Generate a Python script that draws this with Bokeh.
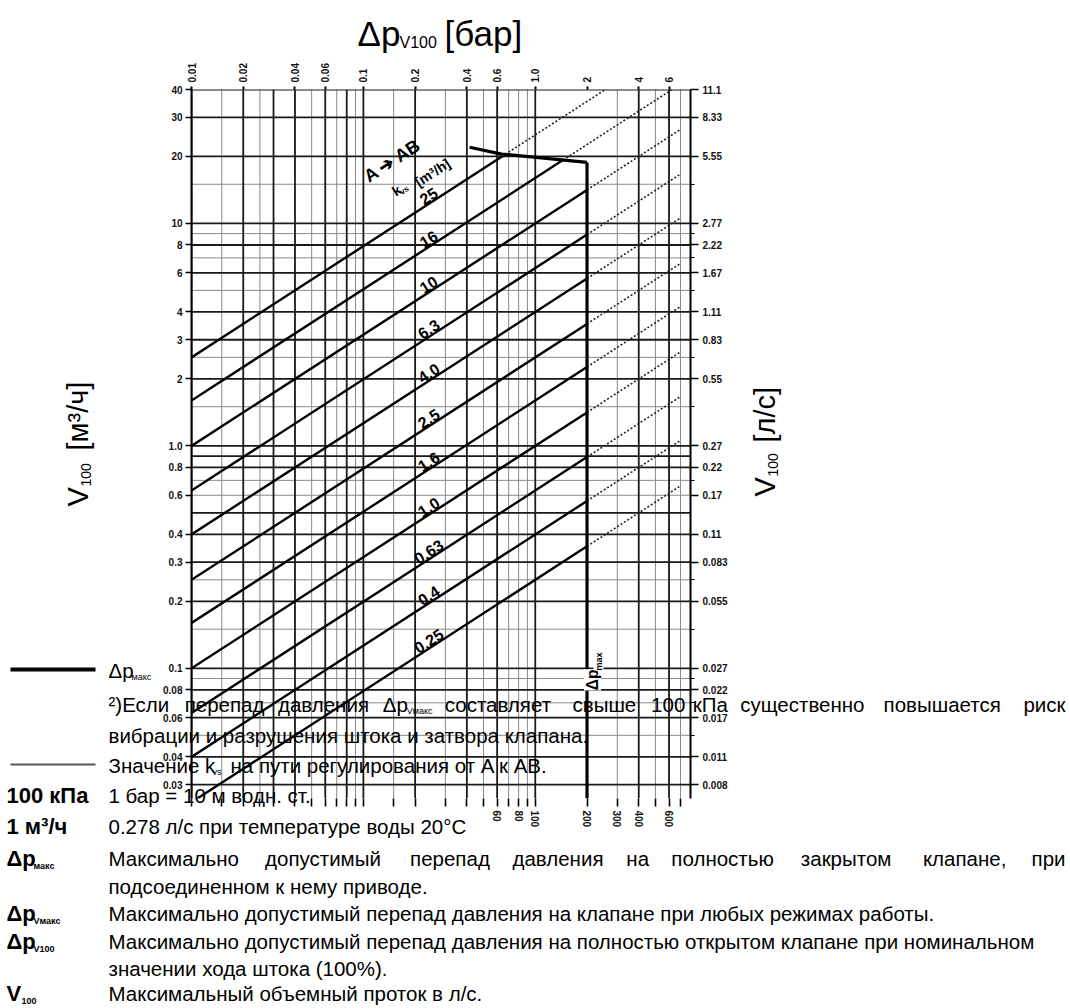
import math
import numpy as np
from bokeh.plotting import figure
from bokeh.layouts import column
from bokeh.models import Range1d, LogAxis, FixedTicker, Label, ColumnDataSource
from bokeh.embed import file_html
from bokeh.resources import INLINE
from bokeh.core.properties import value

# ---------------- data ----------------
kvs_values = [25, 16, 10, 6.3, 4.0, 2.5, 1.6, 1.0, 0.63, 0.4, 0.25]
kvs_labels = ["25", "16", "10", "6.3", "4.0", "2.5", "1.6", "1.0", "0.63", "0.4", "0.25"]

dp_ticks_bar = [0.01, 0.02, 0.04, 0.06, 0.1, 0.2, 0.4, 0.6, 1.0, 2.0, 4.0, 6.0]
dp_tick_labels = ["0.01", "0.02", "0.04", "0.06", "0.1", "0.2", "0.4", "0.6", "1.0", "2", "4", "6"]
kpa_ticks_bar = [0.6, 0.8, 1.0, 2.0, 3.0, 4.0, 6.0]
kpa_tick_labels = ["60", "80", "100", "200", "300", "400", "600"]

flow_ticks = [40, 30, 20, 10, 8, 6, 4, 3, 2, 1.0, 0.8, 0.6, 0.4, 0.3, 0.2, 0.1, 0.08, 0.06, 0.04, 0.03]
flow_labels_m3h = ["40", "30", "20", "10", "8", "6", "4", "3", "2", "1.0", "0.8", "0.6", "0.4",
                   "0.3", "0.2", "0.1", "0.08", "0.06", "0.04", "0.03"]
flow_labels_ls = ["11.1", "8.33", "5.55", "2.77", "2.22", "1.67", "1.11", "0.83", "0.55", "0.27",
                  "0.22", "0.17", "0.11", "0.083", "0.055", "0.027", "0.022", "0.017", "0.011", "0.008"]

grid_dp_major = [0.01, 0.02, 0.03, 0.04, 0.06, 0.08, 0.1, 0.2, 0.4, 0.6, 1.0, 4.0, 6.0]
grid_dp_minor = [0.015, 0.025, 0.05, 0.07, 0.09, 0.15, 0.3, 0.5, 0.7, 0.8, 0.9, 3.0, 5.0, 7.0]
grid_v_major = [40, 30, 20, 10, 8, 6, 4, 3, 2, 1.0, 0.9, 0.8, 0.5, 0.4, 0.3, 0.2, 0.1, 0.08, 0.06, 0.04, 0.03]
grid_v_minor = [15, 9, 7, 5, 2.5, 1.5, 0.7, 0.6, 0.25, 0.15, 0.09, 0.07, 0.05]

vmax_dp = [0.415, 0.636, 2.0]      # bar
vmax_flow = [22.0, 20.5, 18.8]     # m3/h
dp_max_bar = 2.0
dotted_end_dp = 7.0
kvs_label_dp = 0.25

X_RANGE = (0.01, 8.0)
Y_RANGE = (0.026, 40.0)

FONT = "Liberation Sans"
W, H = 1068, 1006
FL, FR, FT, FB = 191, 690, 89, 798   # frame edges on the page
TXT = 20.5                            # footnote text size (px)
BLD = 22                              # bold left-column size (px)

# ---------------- chart figure ----------------
p = figure(width=W, height=H, x_axis_type="log", y_axis_type="log",
           x_range=Range1d(*X_RANGE), y_range=Range1d(*Y_RANGE),
           x_axis_location="above", output_backend="svg", toolbar_location=None,
           min_border_left=FL, min_border_right=W - FR, min_border_top=FT, min_border_bottom=H - FB)
p.frame_align = False
p.outline_line_color = None
p.xgrid.visible = False
p.ygrid.visible = False
p.background_fill_color = "white"
p.border_fill_color = "white"

def style_axis(ax, size="10px"):
    ax.major_label_text_font = FONT
    ax.major_label_text_font_size = size
    ax.major_label_text_font_style = "bold"
    ax.major_label_text_color = "#111111"
    ax.minor_tick_line_color = None

top = p.xaxis[0]
top.ticker = FixedTicker(ticks=dp_ticks_bar, minor_ticks=[])
top.major_label_overrides = {t: l for t, l in zip(dp_ticks_bar, dp_tick_labels)}
top.major_label_orientation = "vertical"
top.axis_line_color = None
top.major_tick_out = 3
top.major_tick_in = 0
top.major_tick_line_width = 2
top.major_label_standoff = 4
style_axis(top)

all_dp_grid = sorted(set(grid_dp_major + grid_dp_minor + [dp_max_bar]))
bottom_over = {t: "" for t in all_dp_grid}
for t, l in zip(kpa_ticks_bar, kpa_tick_labels):
    bottom_over[t] = l
bottom = LogAxis(ticker=FixedTicker(ticks=all_dp_grid, minor_ticks=[]),
                 major_label_overrides=bottom_over, major_label_orientation="vertical",
                 axis_line_color=None, major_tick_out=8, major_tick_in=0,
                 major_tick_line_width=1.6, major_label_standoff=4)
style_axis(bottom)
p.add_layout(bottom, "below")

left = p.yaxis[0]
left.ticker = FixedTicker(ticks=flow_ticks, minor_ticks=[])
left.major_label_overrides = {t: l for t, l in zip(flow_ticks, flow_labels_m3h)}
left.axis_line_width = 2
left.major_tick_out = 6
left.major_tick_in = 0
left.major_tick_line_width = 1.5
left.major_label_standoff = 3
style_axis(left)

right = LogAxis(ticker=FixedTicker(ticks=flow_ticks, minor_ticks=grid_v_minor),
                major_label_overrides={t: l for t, l in zip(flow_ticks, flow_labels_ls)},
                axis_line_width=2, major_tick_out=8, major_tick_in=0, major_tick_line_width=1.5,
                minor_tick_out=4, minor_tick_in=0, major_label_standoff=4)
style_axis(right)
right.minor_tick_line_color = "black"
p.add_layout(right, "right")

# grid
y0, y1 = Y_RANGE
x0, x1 = X_RANGE
p.multi_line(xs=[[d, d] for d in grid_dp_minor], ys=[[y0, y1] for _ in grid_dp_minor],
             line_color="#8a8a8a", line_width=1)
p.multi_line(xs=[[x0, x1] for _ in grid_v_minor], ys=[[v, v] for v in grid_v_minor],
             line_color="#8a8a8a", line_width=1)
p.multi_line(xs=[[d, d] for d in grid_dp_major], ys=[[y0, y1] for _ in grid_dp_major],
             line_color="#1a1a1a", line_width=1.8)
p.multi_line(xs=[[x0, x1] for _ in grid_v_major], ys=[[v, v] for v in grid_v_major],
             line_color="#1a1a1a", line_width=1.8)

# kvs lines
def cross_vmax(k):
    lx = np.log10(vmax_dp)
    ly = np.log10(vmax_flow)
    for i in range(len(lx) - 1):
        f0 = math.log10(k) + 0.5 * lx[i] - ly[i]
        f1 = math.log10(k) + 0.5 * lx[i + 1] - ly[i + 1]
        if f0 * f1 <= 0 and f0 != f1:
            t = f0 / (f0 - f1)
            return 10 ** (lx[i] + t * (lx[i + 1] - lx[i]))
    return None

solid_xs, solid_ys, dot_xs, dot_ys = [], [], [], []
for k in kvs_values:
    end = cross_vmax(k) or dp_max_bar
    solid_xs.append([x0, end])
    solid_ys.append([k * math.sqrt(x0), k * math.sqrt(end)])
    dot_xs.append([end, dotted_end_dp])
    dot_ys.append([k * math.sqrt(end), k * math.sqrt(dotted_end_dp)])

p.multi_line(xs=solid_xs, ys=solid_ys, line_color="black", line_width=2.4)
p.multi_line(xs=dot_xs, ys=dot_ys, line_color="#222222", line_width=1.6, line_dash="2 2")

p.line(x=vmax_dp, y=vmax_flow, line_color="black", line_width=3.2)
p.line(x=[dp_max_bar, dp_max_bar], y=[y0, vmax_flow[-1]], line_color="black", line_width=3.2)

px_per_dec_x = (FR - FL) / math.log10(X_RANGE[1] / X_RANGE[0])
px_per_dec_y = (FB - FT) / math.log10(Y_RANGE[1] / Y_RANGE[0])
slope_angle = math.atan(0.5 * px_per_dec_y / px_per_dec_x)
lab_src = ColumnDataSource(dict(x=[kvs_label_dp] * len(kvs_values),
                                y=[k * math.sqrt(kvs_label_dp) for k in kvs_values],
                                t=kvs_labels))
p.text(x="x", y="y", text="t", source=lab_src, angle=slope_angle, text_align="center",
       text_baseline="bottom", y_offset=-1, text_font=value(FONT), text_font_size="16px",
       text_font_style="bold", text_color="black")

# ---------------- transparent overlay figure for free text (pixel coords) ----------------
ov = figure(width=W, height=H, x_range=Range1d(0, W), y_range=Range1d(H, 0),
            x_axis_type=None, y_axis_type=None, output_backend="svg", toolbar_location=None,
            min_border=0, min_border_left=0, min_border_right=0, min_border_top=0, min_border_bottom=0)
ov.frame_align = False
ov.outline_line_color = None
ov.background_fill_color = None
ov.border_fill_color = None
ov.xgrid.visible = False
ov.ygrid.visible = False
ov.margin = (-H, 0, 0, 0)

def lab(x, y, t, size=TXT, bold=False, angle=0.0, align="left", baseline="middle", bg=None):
    L = Label(x=x, y=y, text=t, text_font=FONT, text_font_size=f"{size}px",
              text_font_style="bold" if bold else "normal",
              angle=angle, text_align=align, text_baseline=baseline, text_color="black")
    if bg:
        L.background_fill_color = bg
    ov.add_layout(L)

NARROW = set(".,:;()!il1 |")
WIDE = set("мшщюжыфМЩШЖЮ")
def est_width(word, size=TXT):
    w = 0.0
    for ch in word:
        if ch in NARROW:
            w += 0.28
        elif ch in WIDE:
            w += 0.76
        else:
            w += 0.56
    return w * size

def justified(words, y, xa=108, xb=1065, extra=None):
    extra = extra or {}
    widths = [est_width(w) + extra.get(i, 0) for i, w in enumerate(words)]
    gap = (xb - xa - sum(widths)) / (len(words) - 1)
    x = xa
    pos = []
    for i, w in enumerate(words):
        if i == len(words) - 1:
            lab(xb, y, w, align="right")
            pos.append(xb - widths[i])
        else:
            lab(x, y, w)
            pos.append(x)
        x += widths[i] + gap
    return pos

# titles
lab(357, 33, "Δp", size=35)
lab(399, 42, "V100", size=16)
lab(444, 33, "[бар]", size=35)

lab(77, 506, "V", size=29, angle=math.pi / 2)
lab(85, 486, "100", size=14, angle=math.pi / 2)
lab(77, 450, "[м³/ч]", size=29, angle=math.pi / 2)

lab(764, 496, "V", size=29, angle=math.pi / 2)
lab(772, 476, "100", size=14, angle=math.pi / 2)
lab(764, 442, "[л/с]", size=29, angle=math.pi / 2)

# A -> AB and kvs caption
lab(392, 160, "A ➔ AB", size=18, bold=True, angle=slope_angle, align="center")
lab(396, 190, "k", size=14, bold=True, angle=slope_angle, align="center")
lab(404, 190, "vs", size=8, bold=True, angle=slope_angle, align="center")
lab(432, 172, "[m³/h]", size=14, bold=True, angle=slope_angle, align="center")

# dp_max label on the vertical line
lab(592, 690, "Δp", size=16, bold=True, angle=math.pi / 2, bg="white")
lab(598, 670, "max", size=9, bold=True, angle=math.pi / 2, bg="white")

# legend samples
ov.line(x=[10, 95], y=[669, 669], line_color="black", line_width=4)
ov.line(x=[10, 95], y=[764, 764], line_color="#555555", line_width=2)
lab(108, 670, "Δp", size=TXT)
lab(131, 676, "макс", size=9)

words1 = ["²)Если", "перепад", "давления", "Δp", "составляет", "свыше", "100", "кПа",
          "существенно", "повышается", "риск"]
pos1 = justified(words1, 704, extra={3: 26})
lab(pos1[3] + 24, 710, "Vмакс", size=9)
lab(108, 735, "вибрации и разрушения штока и затвора клапана.")
lab(108, 765, "Значение k")
lab(212, 771, "vs", size=9)
lab(230, 765, "на пути регулирования от A к AB.")

lab(6, 795, "100 кПа", size=BLD, bold=True)
lab(108, 795, "1 бар = 10 м водн. ст.")
lab(6, 826, "1 м³/ч", size=BLD, bold=True)
lab(108, 826, "0.278 л/с при температуре воды 20°C")

lab(6, 858, "Δp", size=BLD, bold=True)
lab(33, 865, "макс", size=9, bold=True)
words2 = ["Максимально", "допустимый", "перепад", "давления", "на", "полностью", "закрытом",
          "клапане,", "при"]
justified(words2, 858)
lab(108, 886, "подсоединенном к нему приводе.")

lab(6, 913, "Δp", size=BLD, bold=True)
lab(33, 920, "Vмакс", size=9, bold=True)
lab(108, 913, "Максимально допустимый перепад давления на клапане при любых режимах работы.")
lab(6, 941, "Δp", size=BLD, bold=True)
lab(33, 948, "V100", size=9, bold=True)
lab(108, 941, "Максимально допустимый перепад давления на полностью открытом клапане при номинальном")
lab(108, 968, "значении хода штока (100%).")
lab(6, 993, "V", size=BLD, bold=True)
lab(21, 1000, "100", size=9, bold=True)
lab(108, 993, "Максимальный объемный проток в л/с.")

layout = column(p, ov, spacing=0)
open("out.html", "w").write(file_html(layout, INLINE))
